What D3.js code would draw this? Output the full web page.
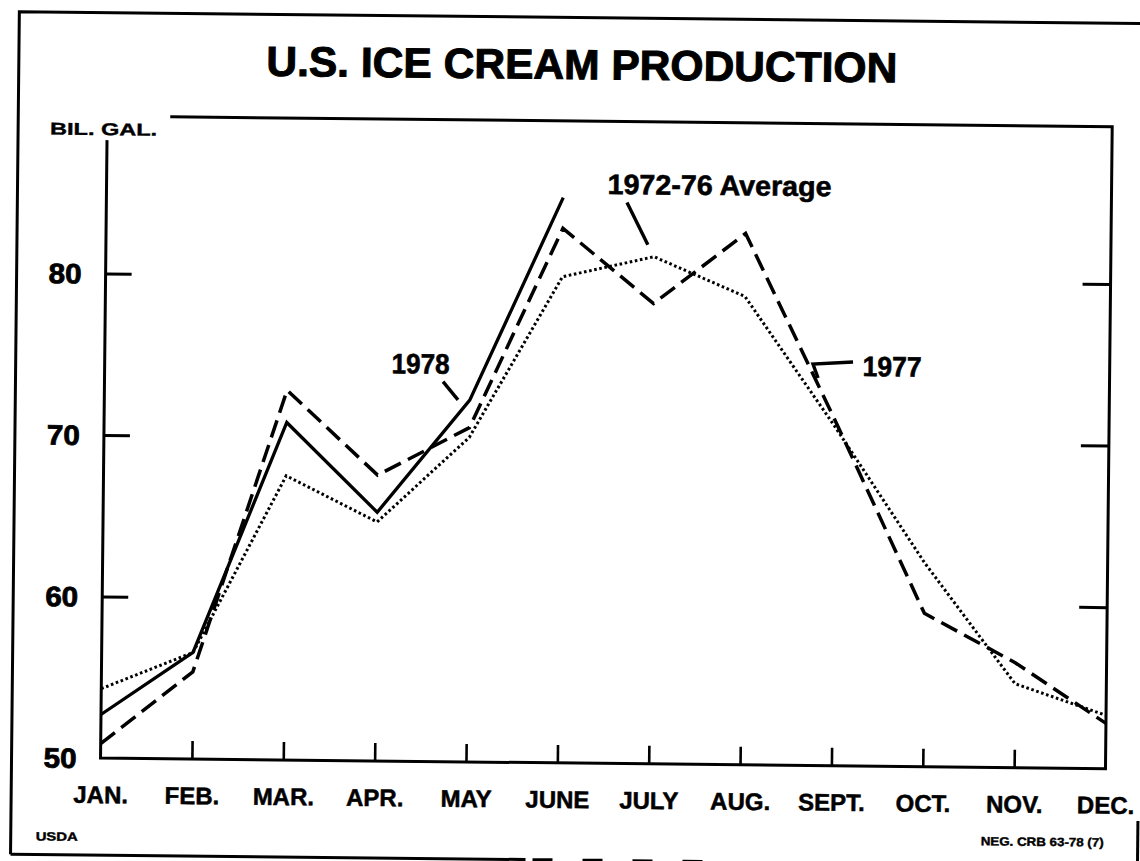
<!DOCTYPE html>
<html>
<head>
<meta charset="utf-8">
<script src="https://cdn.jsdelivr.net/npm/d3@7/dist/d3.min.js"></script>
<style>
  body { margin: 0; background: #fff; }
  svg { display: block; }
  text { font-family: "Liberation Sans", Arial, sans-serif; font-weight: bold; fill: #000; }
</style>
</head>
<body>
<div id="chart"></div>
<script>
// months along the bottom
const months = ["JAN.", "FEB.", "MAR.", "APR.", "MAY", "JUNE", "JULY", "AUG.", "SEPT.", "OCT.", "NOV.", "DEC."];
// billion gallons
const prod1978 = [52.7, 56.6, 70.9, 65.4, 72.4, 85.0];
const prod1977 = [50.9, 55.4, 72.9, 67.7, 70.7, 83.1, 78.5, 82.9, 71.4, 59.5, 56.5, 52.8];
const avg7276 = [54.3, 56.6, 67.6, 64.8, 70.1, 80.1, 81.4, 79.0, 71.0, 62.6, 55.2, 53.3];
const yTicks = [50, 60, 70, 80];

const width = 1140, height = 861;
const plotLeft = 104, plotRight = 1109, plotTop = 121, plotBottom = 763;

const svg = d3.select('#chart').append('svg')
  .attr('width', width)
  .attr('height', height);

// the scan is a touch crooked, so the whole sheet is turned a little
const g = svg.append('g').attr('transform', 'rotate(0.6,570,430)');

const x = d3.scalePoint().domain(months).range([plotLeft, plotRight]);
const y = d3.scaleLinear().domain([50, 89.75]).range([plotBottom, plotTop]);

// outer frame (right edge only shows near the bottom of the scan)
g.append('path')
  .attr('d', `M15,860 L15,17.5 L1150,17.5`)
  .attr('fill', 'none').attr('stroke', '#000').attr('stroke-width', 3);
g.append('line')
  .attr('x1', 1142).attr('x2', 1142).attr('y1', 815).attr('y2', 862)
  .attr('stroke', '#000').attr('stroke-width', 3);
g.append('line')
  .attr('x1', 15).attr('x2', 530).attr('y1', 860).attr('y2', 860)
  .attr('stroke', '#000').attr('stroke-width', 3);
g.append('line')
  .attr('x1', 537).attr('x2', 720).attr('y1', 860).attr('y2', 860)
  .attr('stroke', '#000').attr('stroke-width', 3)
  .attr('stroke-dasharray', '20,30');

// title
g.append('text')
  .attr('x', 578).attr('y', 79)
  .attr('text-anchor', 'middle')
  .attr('font-size', 42)
  .attr('stroke', '#000').attr('stroke-width', 1)
  .attr('textLength', 631).attr('lengthAdjust', 'spacingAndGlyphs')
  .text('U.S. ICE CREAM PRODUCTION');

g.append('text')
  .attr('x', 47).attr('y', 140)
  .attr('font-size', 17)
  .attr('stroke', '#000').attr('stroke-width', 0.4)
  .attr('textLength', 107).attr('lengthAdjust', 'spacingAndGlyphs')
  .text('BIL. GAL.');

// plot box: left axis stops under the unit label
g.append('path')
  .attr('d', `M${plotLeft},145 L${plotLeft},${plotBottom} L${plotRight},${plotBottom} L${plotRight},${plotTop} L167,${plotTop}`)
  .attr('fill', 'none').attr('stroke', '#000').attr('stroke-width', 3);

// y axis, ticks pointing in
const yAxis = g.append('g')
  .attr('transform', `translate(${plotLeft},0)`)
  .call(d3.axisLeft(y).tickValues(yTicks).tickSizeInner(-26).tickSizeOuter(0).tickPadding(24));
yAxis.select('.domain').remove();
yAxis.selectAll('line')
  .attr('stroke', '#000').attr('stroke-width', 3)
  .filter(d => d === 50).remove();
yAxis.selectAll('text')
  .attr('font-size', 28)
  .attr('font-family', '"Liberation Sans", Arial, sans-serif')
  .attr('font-weight', 'bold')
  .attr('stroke', '#000').attr('stroke-width', 0.8)
  .attr('dy', '0.34em')
  .attr('textLength', 33).attr('lengthAdjust', 'spacingAndGlyphs');

const yAxisRight = g.append('g')
  .attr('transform', `translate(${plotRight},0)`)
  .call(d3.axisRight(y).tickValues(yTicks.slice(1)).tickSizeInner(-28).tickSizeOuter(0).tickFormat(''));
yAxisRight.select('.domain').remove();
yAxisRight.selectAll('line').attr('stroke', '#000').attr('stroke-width', 3);

// x axis, short ticks upward, month names below
const xAxis = g.append('g')
  .attr('transform', `translate(0,${plotBottom})`)
  .call(d3.axisBottom(x).tickSizeInner(-18).tickSizeOuter(0).tickPadding(27));
xAxis.select('.domain').remove();
xAxis.selectAll('line')
  .attr('stroke', '#000').attr('stroke-width', 2.6)
  .filter(d => d === months[0] || d === months[11]).remove();
xAxis.selectAll('text')
  .attr('font-size', 24)
  .attr('font-family', '"Liberation Sans", Arial, sans-serif')
  .attr('font-weight', 'bold')
  .attr('stroke', '#000').attr('stroke-width', 0.5)
  .attr('dy', '0.71em')
  .attr('y', 45 - 17);

// series
const line = d3.line()
  .defined(d => d != null)
  .x((d, i) => x(months[i]))
  .y(d => y(d));

g.append('path')
  .datum(avg7276)
  .attr('d', line)
  .attr('fill', 'none').attr('stroke', '#000')
  .attr('stroke-width', 3)
  .attr('stroke-dasharray', '2.6,2.6');

g.append('path')
  .datum(prod1977)
  .attr('d', line)
  .attr('fill', 'none').attr('stroke', '#000')
  .attr('stroke-width', 3.5)
  .attr('stroke-dasharray', '18,8');

g.append('path')
  .datum(prod1978)
  .attr('d', line)
  .attr('fill', 'none').attr('stroke', '#000')
  .attr('stroke-width', 3.3)
  .attr('stroke-linejoin', 'miter');

// labels with leader lines
const labels = [
  {text: '1978', x: 391, y: 375, len: 58, leader: 'M442.5,383 L457.7,401'},
  {text: '1972-76 Average', x: 605, y: 193.5, len: 224, leader: 'M624.6,202 L645.9,244'},
  {text: '1977', x: 862, y: 373, len: 59, leader: 'M817.5,375.4 L812.3,361.5 L852.3,359'}
];
labels.forEach(l => {
  g.append('text')
    .attr('x', l.x).attr('y', l.y)
    .attr('font-size', 28)
    .attr('stroke', '#000').attr('stroke-width', 0.6)
    .attr('textLength', l.len).attr('lengthAdjust', 'spacingAndGlyphs')
    .text(l.text);
  g.append('path')
    .attr('d', l.leader)
    .attr('fill', 'none').attr('stroke', '#000')
    .attr('stroke-width', 3.4);
});

// footers
g.append('text')
  .attr('x', 40).attr('y', 846)
  .attr('font-size', 12)
  .attr('stroke', '#000').attr('stroke-width', 0.4)
  .attr('textLength', 42).attr('lengthAdjust', 'spacingAndGlyphs')
  .text('USDA');
g.append('text')
  .attr('x', 985).attr('y', 841)
  .attr('font-size', 12)
  .attr('stroke', '#000').attr('stroke-width', 0.4)
  .attr('textLength', 123).attr('lengthAdjust', 'spacingAndGlyphs')
  .text('NEG. CRB 63-78 (7)');
</script>
</body>
</html>
